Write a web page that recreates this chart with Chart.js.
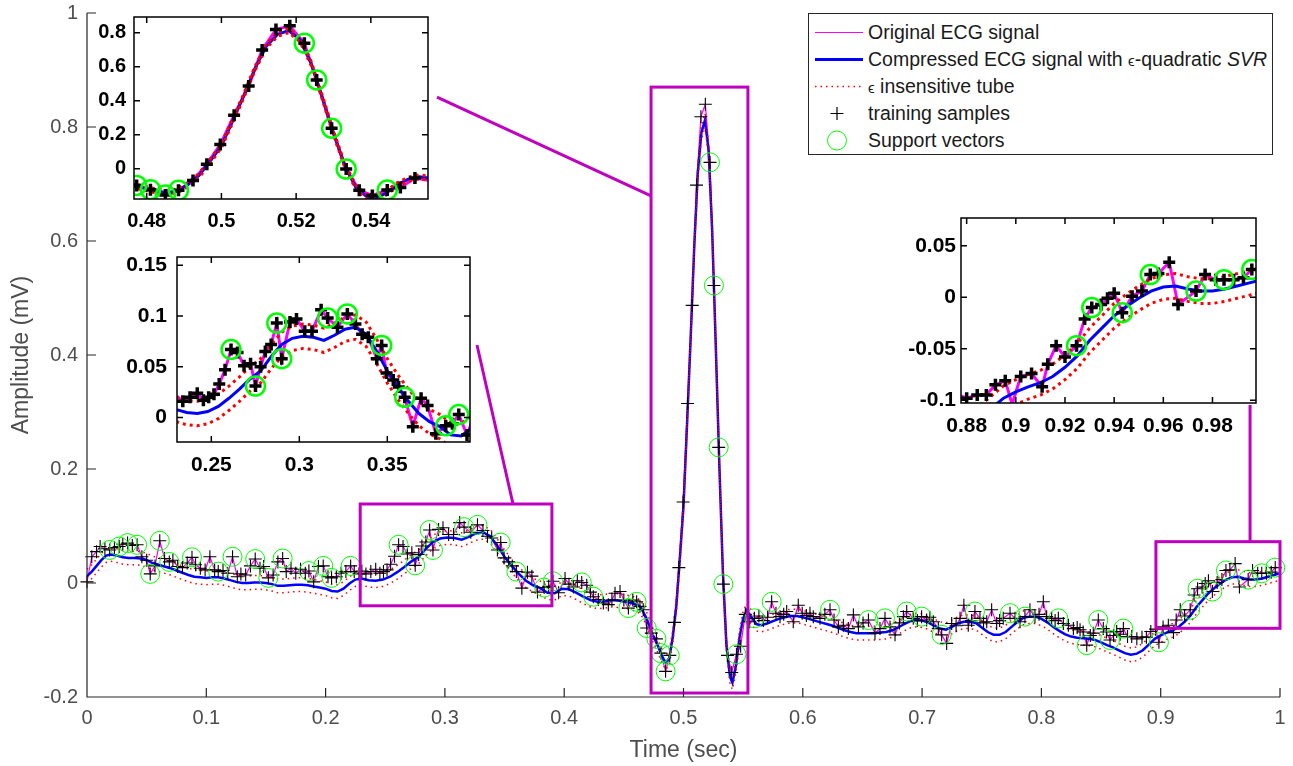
<!DOCTYPE html>
<html>
<head>
<meta charset="utf-8">
<title>ECG compression with SVR</title>
<script src="https://cdn.jsdelivr.net/npm/chart.js@4.4.1/dist/chart.umd.min.js"></script>
<style>
  html, body { margin: 0; padding: 0; background: #fff; }
  #wrap { position: relative; width: 1293px; height: 766px; overflow: hidden; }
  #wrap canvas { position: absolute; }
  #legend {
    position: absolute; left: 808px; top: 13px; width: 465px; height: 142px;
    box-sizing: border-box; border: 1px solid #262626; background: #fff;
    padding-top: 5px; font: 19.5px "Liberation Sans", Arial, Helvetica, sans-serif; color: #1a1a1a;
  }
  #legend .row { height: 27px; display: flex; align-items: center; white-space: nowrap; }
  #legend svg { margin-left: 6px; margin-right: 5px; flex: none; }
  #legend .eps { font-size: 15px; }
</style>
</head>
<body>
<div id="wrap">
  <canvas id="mainChart" width="1293" height="766" style="left:0;top:0"></canvas>
  <canvas id="zoomQrs" width="351" height="230" style="left:89px;top:5px"></canvas>
  <canvas id="zoomP" width="372" height="235" style="left:110px;top:245px"></canvas>
  <canvas id="zoomEnd" width="375" height="242" style="left:893px;top:206px"></canvas>
  <div id="legend"></div>
</div>
<script>
// ---- training samples (black +), the original ECG line runs through them ----
const trainT = [
  // 0 - 0.23
  0.000, 0.004, 0.008, 0.011, 0.015, 0.019, 0.023, 0.027, 0.030, 0.034,
  0.038, 0.042, 0.046, 0.050, 0.053, 0.057, 0.061, 0.065, 0.069, 0.072,
  0.076, 0.080, 0.084, 0.088, 0.091, 0.095, 0.099, 0.103, 0.107, 0.110,
  0.114, 0.118, 0.122, 0.126, 0.129, 0.133, 0.137, 0.141, 0.145, 0.148,
  0.152, 0.156, 0.160, 0.164, 0.167, 0.171, 0.175, 0.179, 0.183, 0.186,
  0.190, 0.194, 0.198, 0.202, 0.205, 0.209, 0.213, 0.217, 0.221, 0.224,
  0.228,
  // P wave
  0.2304, 0.2338, 0.2379, 0.2420, 0.2455, 0.2485, 0.2515, 0.2545, 0.2578, 0.2612,
  0.2649, 0.2686, 0.2723, 0.2751, 0.2780, 0.2807, 0.2840, 0.2872, 0.2900, 0.2947,
  0.2984, 0.3031, 0.3072, 0.3124, 0.3161, 0.3217, 0.3273, 0.3319, 0.3357, 0.3392,
  0.3440, 0.3468, 0.3496, 0.3534, 0.3565, 0.3599, 0.3645, 0.3692, 0.3729, 0.3776,
  0.3832, 0.3870, 0.3906, 0.3953,
  // PR segment
  0.4007, 0.4040, 0.4077, 0.4110, 0.4147, 0.4189, 0.4220, 0.4244, 0.4286, 0.4328,
  0.4370, 0.4400, 0.4426, 0.4468, 0.4500, 0.4538, 0.4575, 0.4607, 0.4635, 0.4663,
  0.4692, 0.4730,
  // QRS
  0.4773, 0.4810, 0.4850, 0.4885, 0.4924, 0.4961, 0.4997, 0.5034, 0.5073, 0.5109,
  0.5146, 0.5183, 0.5222, 0.5255, 0.5295, 0.5334, 0.5369, 0.5404, 0.5444, 0.5479,
  0.5518,
  // ST / T segment
  0.5555, 0.5595, 0.5632, 0.5669, 0.5705, 0.5739, 0.5775, 0.5809, 0.5840, 0.5865,
  0.5920, 0.5962, 0.5995, 0.6030, 0.6060, 0.6088, 0.6144, 0.6185, 0.6228, 0.6262,
  0.6298, 0.6340, 0.6382, 0.6424, 0.6466, 0.6505, 0.6550, 0.6605, 0.6647, 0.6689,
  0.6731, 0.6773, 0.6810, 0.6843, 0.6871, 0.6926, 0.6960, 0.6996, 0.7038, 0.7065,
  0.7094, 0.7136, 0.7164, 0.7206, 0.7248, 0.7285, 0.7318, 0.7350, 0.7387, 0.7415,
  0.7443, 0.7485, 0.7515, 0.7542, 0.7583, 0.7625, 0.7650, 0.7680, 0.7737, 0.7779,
  0.7821, 0.7862, 0.7904, 0.7946, 0.7980, 0.8016, 0.8044, 0.8086, 0.8115, 0.8142,
  0.8184, 0.8226, 0.8268, 0.8300, 0.8324, 0.8350, 0.8380, 0.8410, 0.8435, 0.8477,
  0.8519, 0.8545, 0.8575, 0.8605, 0.8631, 0.8660, 0.8687, 0.8722, 0.8757,
  // end
  0.8800, 0.8843, 0.8880, 0.8917, 0.8957, 0.8985, 0.9020, 0.9064, 0.9107, 0.9130,
  0.9164, 0.9200, 0.9247, 0.9280, 0.9309, 0.9347, 0.9373, 0.9400, 0.9433, 0.9473,
  0.9513, 0.9547, 0.9580, 0.9624, 0.9660, 0.9733, 0.9770, 0.9813, 0.9847, 0.9886,
  0.9926, 0.9960
];
const trainY = [
  0.002, 0.046, 0.055, 0.064, 0.060, 0.058, 0.062, 0.064, 0.068, 0.070,
  0.066, 0.067, 0.046, 0.040, 0.016, 0.030, 0.074, 0.043, 0.037, 0.040,
  0.029, 0.027, 0.035, 0.045, 0.032, 0.026, 0.023, 0.046, 0.023, 0.020,
  0.022, 0.017, 0.046, 0.011, 0.016, 0.014, 0.030, 0.042, 0.026, 0.029,
  0.009, 0.014, 0.037, 0.043, 0.020, 0.026, 0.017, 0.024, 0.017, 0.021,
  0.002, 0.029, 0.030, 0.011, 0.009, 0.011, 0.017, 0.020, 0.030, 0.020,
  0.016,

  0.021, 0.016, 0.020, 0.024, 0.017, 0.020, 0.023, 0.033, 0.047, 0.067,
  0.064, 0.051, 0.053, 0.031, 0.050, 0.065, 0.072, 0.093, 0.058, 0.094,
  0.097, 0.085, 0.085, 0.106, 0.098, 0.089, 0.102, 0.092, 0.082, 0.079,
  0.058, 0.071, 0.044, 0.037, 0.030, 0.020, -0.009, 0.019, 0.012, -0.016,
  -0.008, -0.006, 0.003, -0.017,

  0.008, -0.002, -0.007, 0.004, 0.001, -0.004, -0.016, -0.024, -0.029, -0.035,
  -0.038, -0.030, -0.018, -0.015, -0.030, -0.044, -0.030, -0.033, -0.041, -0.047,
  -0.079, -0.088,

  -0.098, -0.123, -0.155, -0.127, -0.069, 0.027, 0.142, 0.315, 0.487, 0.698,
  0.818, 0.840, 0.738, 0.522, 0.238, -0.002, -0.127, -0.157, -0.125, -0.111,
  -0.055,

  -0.068, -0.062, -0.058, -0.066, -0.060, -0.033, -0.053, -0.059, -0.055, -0.050,
  -0.068, -0.039, -0.053, -0.057, -0.053, -0.059, -0.062, -0.055, -0.047, -0.065,
  -0.077, -0.074, -0.080, -0.056, -0.077, -0.070, -0.065, -0.088, -0.080, -0.062,
  -0.077, -0.091, -0.070, -0.059, -0.050, -0.062, -0.066, -0.059, -0.065, -0.060,
  -0.068, -0.080, -0.091, -0.106, -0.071, -0.075, -0.062, -0.039, -0.074, -0.066,
  -0.050, -0.062, -0.070, -0.068, -0.047, -0.071, -0.066, -0.062, -0.053, -0.062,
  -0.068, -0.059, -0.047, -0.059, -0.055, -0.033, -0.059, -0.062, -0.066, -0.062,
  -0.071, -0.074, -0.080, -0.078, -0.082, -0.086, -0.109, -0.092, -0.088, -0.065,
  -0.080, -0.086, -0.100, -0.092, -0.085, -0.090, -0.080, -0.094, -0.094,

  -0.098, -0.095, -0.095, -0.085, -0.081, -0.104, -0.077, -0.074, -0.087, -0.065,
  -0.047, -0.058, -0.047, -0.021, -0.010, -0.007, -0.001, 0.004, -0.015, 0.001,
  0.006, 0.022, 0.023, 0.034, -0.007, 0.006, 0.022, 0.017, 0.017, 0.017,
  0.019, 0.027
];

// ---- support vectors (green o) ----
const svT = [
  0.019, 0.027, 0.034, 0.042, 0.053, 0.061, 0.069, 0.088, 0.110, 0.122,
  0.141, 0.152, 0.164, 0.186, 0.198, 0.205, 0.221,
  0.2612, 0.2751, 0.2872, 0.2900, 0.3161, 0.3273, 0.3468, 0.3599, 0.3832, 0.3906,
  0.4147, 0.4244, 0.4538, 0.4607, 0.4692,
  0.4773, 0.4810, 0.4850, 0.4885, 0.5222, 0.5255, 0.5295, 0.5334, 0.5444,
  0.5595, 0.5739, 0.6228, 0.6550, 0.6689, 0.6871, 0.6996, 0.7164, 0.7443, 0.7737,
  0.7862, 0.8142, 0.8380, 0.8477, 0.8575, 0.8687,
  0.8985, 0.9247, 0.9309, 0.9433, 0.9547, 0.9733, 0.9847, 0.9960
];
const svY = [
  0.058, 0.064, 0.070, 0.067, 0.016, 0.074, 0.037, 0.045, 0.020, 0.046,
  0.042, 0.009, 0.043, 0.021, 0.030, 0.009, 0.030,
  0.067, 0.031, 0.093, 0.058, 0.098, 0.102, 0.071, 0.020, -0.008, 0.003,
  0.001, -0.024, -0.044, -0.033, -0.079,
  -0.098, -0.123, -0.155, -0.127, 0.738, 0.522, 0.238, -0.002, -0.125,
  -0.062, -0.033, -0.047, -0.065, -0.062, -0.050, -0.059, -0.091, -0.050, -0.053,
  -0.059, -0.062, -0.109, -0.065, -0.100, -0.080,
  -0.104, -0.047, -0.010, -0.015, 0.022, 0.006, 0.017, 0.027
];

// ---- compressed signal (blue) and the epsilon tube (red dotted) ----
const fitT = [
  0.000, 0.004, 0.008, 0.012, 0.016, 0.020, 0.025, 0.030, 0.035, 0.040,
  0.045, 0.050, 0.055, 0.060, 0.065, 0.070, 0.075, 0.080, 0.085, 0.090,
  0.095, 0.100, 0.105, 0.110, 0.115, 0.120, 0.125, 0.130, 0.135, 0.140,
  0.145, 0.150, 0.155, 0.160, 0.165, 0.170, 0.175, 0.180, 0.185, 0.190,
  0.195, 0.200, 0.205, 0.210, 0.215, 0.220, 0.225, 0.230, 0.236, 0.242,
  0.248, 0.254, 0.260, 0.266, 0.272, 0.278, 0.284, 0.290, 0.296, 0.302,
  0.308, 0.314, 0.320, 0.326, 0.332, 0.338, 0.344, 0.350, 0.356, 0.362,
  0.368, 0.374, 0.380, 0.386, 0.392, 0.398, 0.404, 0.410, 0.416, 0.422,
  0.428, 0.434, 0.440, 0.446, 0.452, 0.458, 0.464, 0.469, 0.474, 0.478,
  0.482, 0.485, 0.488, 0.491, 0.494, 0.497, 0.500, 0.503, 0.506, 0.509,
  0.512, 0.515, 0.518, 0.521, 0.524, 0.527, 0.530, 0.533, 0.536, 0.539,
  0.541, 0.544, 0.547, 0.550, 0.553, 0.557, 0.561, 0.565, 0.570, 0.575,
  0.580, 0.585, 0.590, 0.595, 0.600, 0.605, 0.610, 0.615, 0.620, 0.625,
  0.630, 0.635, 0.640, 0.645, 0.650, 0.655, 0.660, 0.665, 0.670, 0.675,
  0.680, 0.685, 0.690, 0.695, 0.700, 0.705, 0.710, 0.715, 0.720, 0.725,
  0.730, 0.735, 0.740, 0.745, 0.750, 0.755, 0.760, 0.765, 0.770, 0.775,
  0.780, 0.785, 0.790, 0.795, 0.800, 0.805, 0.810, 0.815, 0.820, 0.825,
  0.830, 0.835, 0.840, 0.845, 0.850, 0.855, 0.860, 0.865, 0.870, 0.875,
  0.880, 0.885, 0.890, 0.895, 0.900, 0.905, 0.910, 0.915, 0.920, 0.925,
  0.930, 0.935, 0.940, 0.945, 0.950, 0.955, 0.960, 0.965, 0.970, 0.975,
  0.980, 0.985, 0.990, 0.995, 1.000
];
const fitY = [
  0.012, 0.020, 0.030, 0.040, 0.048, 0.050, 0.048, 0.045, 0.044, 0.044,
  0.043, 0.040, 0.035, 0.032, 0.029, 0.026, 0.022, 0.018, 0.014, 0.011,
  0.010, 0.009, 0.010, 0.010, 0.008, 0.005, 0.002, 0.000, 0.000, 0.001,
  0.001, 0.000, -0.002, -0.005, -0.005, -0.004, -0.003, -0.003, -0.004, -0.006,
  -0.008, -0.010, -0.014, -0.015, -0.010, -0.001, 0.006, 0.008, 0.005, 0.004,
  0.006, 0.011, 0.019, 0.028, 0.038, 0.046, 0.060, 0.072, 0.078, 0.080,
  0.079, 0.076, 0.081, 0.087, 0.089, 0.082, 0.065, 0.046, 0.030, 0.016,
  0.004, -0.004, -0.009, -0.017, -0.018, -0.010, -0.011, -0.017, -0.024, -0.030,
  -0.033, -0.032, -0.030, -0.031, -0.033, -0.036, -0.042, -0.062, -0.090, -0.108,
  -0.128, -0.140, -0.132, -0.095, -0.040, 0.045, 0.135, 0.280, 0.430, 0.590,
  0.720, 0.790, 0.812, 0.760, 0.620, 0.420, 0.210, 0.020, -0.110, -0.165,
  -0.175, -0.145, -0.095, -0.062, -0.048, -0.060, -0.072, -0.074, -0.071, -0.067,
  -0.063, -0.060, -0.058, -0.058, -0.060, -0.063, -0.066, -0.069, -0.072, -0.075,
  -0.079, -0.083, -0.086, -0.088, -0.088, -0.088, -0.088, -0.087, -0.086, -0.083,
  -0.078, -0.072, -0.067, -0.065, -0.066, -0.069, -0.075, -0.080, -0.082, -0.077,
  -0.071, -0.068, -0.068, -0.070, -0.078, -0.086, -0.091, -0.091, -0.086, -0.077,
  -0.068, -0.061, -0.059, -0.059, -0.063, -0.069, -0.077, -0.084, -0.090, -0.094,
  -0.096, -0.097, -0.098, -0.100, -0.104, -0.109, -0.113, -0.118, -0.123, -0.126,
  -0.124, -0.118, -0.108, -0.098, -0.092, -0.087, -0.083, -0.077, -0.068, -0.057,
  -0.042, -0.030, -0.018, -0.009, -0.001, 0.006, 0.010, 0.011, 0.008, 0.006,
  0.006, 0.008, 0.011, 0.014, 0.017
];
const tubeHi = [
  0.024, 0.032, 0.042, 0.052, 0.060, 0.062, 0.060, 0.057, 0.056, 0.056,
  0.055, 0.052, 0.047, 0.044, 0.041, 0.038, 0.034, 0.030, 0.026, 0.023,
  0.022, 0.021, 0.022, 0.022, 0.020, 0.017, 0.014, 0.012, 0.012, 0.013,
  0.013, 0.012, 0.010, 0.007, 0.007, 0.008, 0.009, 0.009, 0.008, 0.006,
  0.004, 0.002, -0.002, -0.003, 0.002, 0.011, 0.018, 0.020, 0.017, 0.016,
  0.018, 0.023, 0.031, 0.040, 0.050, 0.058, 0.072, 0.084, 0.090, 0.092,
  0.091, 0.088, 0.093, 0.099, 0.101, 0.094, 0.077, 0.058, 0.042, 0.028,
  0.016, 0.008, 0.003, -0.005, -0.006, 0.002, 0.001, -0.005, -0.012, -0.018,
  -0.021, -0.020, -0.018, -0.019, -0.021, -0.024, -0.030, -0.050, -0.078, -0.096,
  -0.116, -0.128, -0.120, -0.083, -0.028, 0.057, 0.147, 0.292, 0.442, 0.602,
  0.732, 0.802, 0.824, 0.772, 0.632, 0.432, 0.222, 0.032, -0.098, -0.153,
  -0.163, -0.133, -0.083, -0.050, -0.036, -0.048, -0.060, -0.062, -0.059, -0.055,
  -0.051, -0.048, -0.046, -0.046, -0.048, -0.051, -0.054, -0.057, -0.060, -0.063,
  -0.067, -0.071, -0.074, -0.076, -0.076, -0.076, -0.076, -0.075, -0.074, -0.071,
  -0.066, -0.060, -0.055, -0.053, -0.054, -0.057, -0.063, -0.068, -0.070, -0.065,
  -0.059, -0.056, -0.056, -0.058, -0.066, -0.074, -0.079, -0.079, -0.074, -0.065,
  -0.056, -0.049, -0.047, -0.047, -0.051, -0.057, -0.065, -0.072, -0.078, -0.082,
  -0.084, -0.085, -0.086, -0.088, -0.092, -0.097, -0.101, -0.106, -0.111, -0.114,
  -0.112, -0.106, -0.096, -0.086, -0.080, -0.075, -0.071, -0.065, -0.056, -0.045,
  -0.030, -0.018, -0.006, 0.003, 0.011, 0.018, 0.022, 0.023, 0.020, 0.018,
  0.018, 0.020, 0.023, 0.026, 0.029
];
const tubeLo = [
  0.000, 0.008, 0.018, 0.028, 0.036, 0.038, 0.036, 0.033, 0.032, 0.032,
  0.031, 0.028, 0.023, 0.020, 0.017, 0.014, 0.010, 0.006, 0.002, -0.001,
  -0.002, -0.003, -0.002, -0.002, -0.004, -0.007, -0.010, -0.012, -0.012, -0.011,
  -0.011, -0.012, -0.014, -0.017, -0.017, -0.016, -0.015, -0.015, -0.016, -0.018,
  -0.020, -0.022, -0.026, -0.027, -0.022, -0.013, -0.006, -0.004, -0.007, -0.008,
  -0.006, -0.001, 0.007, 0.016, 0.026, 0.034, 0.048, 0.060, 0.066, 0.068,
  0.067, 0.064, 0.069, 0.075, 0.077, 0.070, 0.053, 0.034, 0.018, 0.004,
  -0.008, -0.016, -0.021, -0.029, -0.030, -0.022, -0.023, -0.029, -0.036, -0.042,
  -0.045, -0.044, -0.042, -0.043, -0.045, -0.048, -0.054, -0.074, -0.102, -0.120,
  -0.140, -0.152, -0.144, -0.107, -0.052, 0.033, 0.123, 0.268, 0.418, 0.578,
  0.708, 0.778, 0.800, 0.748, 0.608, 0.408, 0.198, 0.008, -0.122, -0.177,
  -0.187, -0.157, -0.107, -0.074, -0.060, -0.072, -0.084, -0.086, -0.083, -0.079,
  -0.075, -0.072, -0.070, -0.070, -0.072, -0.075, -0.078, -0.081, -0.084, -0.087,
  -0.091, -0.095, -0.098, -0.100, -0.100, -0.100, -0.100, -0.099, -0.098, -0.095,
  -0.090, -0.084, -0.079, -0.077, -0.078, -0.081, -0.087, -0.092, -0.094, -0.089,
  -0.083, -0.080, -0.080, -0.082, -0.090, -0.098, -0.103, -0.103, -0.098, -0.089,
  -0.080, -0.073, -0.071, -0.071, -0.075, -0.081, -0.089, -0.096, -0.102, -0.106,
  -0.108, -0.109, -0.110, -0.112, -0.116, -0.121, -0.125, -0.130, -0.135, -0.138,
  -0.136, -0.130, -0.120, -0.110, -0.104, -0.099, -0.095, -0.089, -0.080, -0.069,
  -0.054, -0.042, -0.030, -0.021, -0.013, -0.006, -0.002, -0.001, -0.004, -0.006,
  -0.006, -0.004, -0.001, 0.002, 0.005
];

// ---- axes ----
const mainXTicks = [0, 0.1, 0.2, 0.3, 0.4, 0.5, 0.6, 0.7, 0.8, 0.9, 1];
const mainYTicks = [-0.2, 0, 0.2, 0.4, 0.6, 0.8, 1];

// inset axes limits and ticks
const qrsXRange = [0.4766, 0.5553], qrsYRange = [-0.178, 0.892];
const qrsXTicks = [0.48, 0.5, 0.52, 0.54], qrsYTicks = [0, 0.2, 0.4, 0.6, 0.8];
const pXRange = [0.2305, 0.397], pYRange = [-0.024, 0.158];
const pXTicks = [0.25, 0.3, 0.35], pYTicks = [0, 0.05, 0.1, 0.15];
const endXRange = [0.8777, 0.9977], endYRange = [-0.1027, 0.077];
const endXTicks = [0.88, 0.9, 0.92, 0.94, 0.96, 0.98], endYTicks = [-0.1, -0.05, 0, 0.05];

// zoom rectangles on the main axes (data units) and the leader lines to the insets
const zoomBoxT = [[0.4728, 0.554], [0.229, 0.3897], [0.896, 1.0]];
const zoomBoxY = [[-0.193, 0.870], [-0.040, 0.1386], [-0.0795, 0.0725]];
const zoomLinkFrom = [[0.2934, 0.8526], [0.3269, 0.4175], [0.9749, 0.3123]];
const zoomLinkTo = [[0.4728, 0.679], [0.3571, 0.1386], [0.9749, 0.0725]];

const legendLabels = [
  'Original ECG signal',
  'Compressed ECG signal with <span class="eps">\u03F5</span>-quadratic <i>SVR</i>',
  '<span class="eps">\u03F5</span> insensitive tube',
  'training samples',
  'Support vectors'
];

const FONT = '"Liberation Sans", Arial, Helvetica, sans-serif';
const AXIS_COLOR = '#262626';
const TICK_COLOR = '#4d4d4d';
const ZOOM_COLOR = '#bf00bf';

Chart.defaults.font.family = FONT;

const pts = (xs, ys) => xs.map((x, i) => ({ x: x, y: ys[i] }));
const fmtTick = v => String(+Number(v).toFixed(4));

// ticks pointing inwards + axis lines (MATLAB look)
const axesFrame = {
  id: 'axesFrame',
  beforeDatasetsDraw(chart, args, o) {
    if (!o.fill) return;
    const a = chart.chartArea;
    chart.ctx.save();
    chart.ctx.fillStyle = o.fill;
    chart.ctx.fillRect(a.left, a.top, a.width, a.height);
    chart.ctx.restore();
  },
  afterDraw(chart, args, o) {
    const { ctx, chartArea: a, scales: { x, y } } = chart;
    ctx.save();
    ctx.strokeStyle = o.color;
    ctx.lineWidth = o.width;
    ctx.beginPath();
    x.ticks.forEach(t => {
      const px = x.getPixelForValue(t.value);
      ctx.moveTo(px, a.bottom); ctx.lineTo(px, a.bottom - o.len);
      if (o.box) { ctx.moveTo(px, a.top); ctx.lineTo(px, a.top + o.len); }
    });
    y.ticks.forEach(t => {
      const py = y.getPixelForValue(t.value);
      ctx.moveTo(a.left, py); ctx.lineTo(a.left + o.len, py);
      if (o.box) { ctx.moveTo(a.right, py); ctx.lineTo(a.right - o.len, py); }
    });
    if (o.box) {
      ctx.rect(a.left, a.top, a.width, a.height);
    } else {
      ctx.moveTo(a.left, a.top); ctx.lineTo(a.left, a.bottom); ctx.lineTo(a.right, a.bottom);
    }
    ctx.stroke();
    ctx.restore();
  }
};

// magenta zoom rectangles and leader lines on the main plot
const zoomMarks = {
  id: 'zoomMarks',
  afterDatasetsDraw(chart) {
    const { ctx, scales: { x, y } } = chart;
    ctx.save();
    ctx.strokeStyle = ZOOM_COLOR;
    ctx.lineWidth = 3;
    zoomBoxT.forEach((bt, i) => {
      const by = zoomBoxY[i];
      const l = x.getPixelForValue(bt[0]), r = x.getPixelForValue(bt[1]);
      const t = y.getPixelForValue(by[1]), b = y.getPixelForValue(by[0]);
      ctx.strokeRect(l, t, r - l, b - t);
    });
    ctx.beginPath();
    zoomLinkFrom.forEach((p, i) => {
      const q = zoomLinkTo[i];
      ctx.moveTo(x.getPixelForValue(p[0]), y.getPixelForValue(p[1]));
      ctx.lineTo(x.getPixelForValue(q[0]), y.getPixelForValue(q[1]));
    });
    ctx.stroke();
    ctx.restore();
  }
};

function seriesDatasets(st, xr, yr) {
  const inside = p => !xr || (p.x >= xr[0] && p.x <= xr[1] && p.y >= yr[0] && p.y <= yr[1]);
  const line = (data, color, width, dash) => ({
    data: data, showLine: true, pointRadius: 0, borderColor: color,
    borderWidth: width, borderDash: dash || [], clip: st.lineClip
  });
  return [
    { data: pts(svT, svY).filter(inside), showLine: false, pointStyle: 'circle',
      pointRadius: st.svR, pointBorderWidth: st.svW, pointBorderColor: '#00ff00',
      pointBackgroundColor: 'rgba(0,0,0,0)', clip: st.pointClip },
    { data: pts(trainT, trainY).filter(inside), showLine: false, pointStyle: 'cross',
      pointRadius: st.crossR, pointBorderWidth: st.crossW, pointBorderColor: '#000000',
      clip: st.pointClip },
    line(pts(fitT, tubeHi), '#ff0000', st.tubeW, st.tubeDash),
    line(pts(fitT, tubeLo), '#ff0000', st.tubeW, st.tubeDash),
    line(pts(fitT, fitY), '#0000ff', st.fitW),
    line(pts(trainT, trainY), '#ff00ff', st.origW)
  ];
}

function axisOpts(range, ticks, size, font, color, pad, title) {
  return {
    type: 'linear', min: range[0], max: range[1],
    afterBuildTicks: s => { s.ticks = ticks.map(v => ({ value: v })); },
    afterFit: s => {
      if (s.isHorizontal()) s.height = size; else s.width = size;
      // keep the plot box exactly where the layout padding puts it
      s.paddingTop = 0; s.paddingBottom = 0; s.paddingLeft = 0; s.paddingRight = 0;
    },
    grid: { display: false, drawTicks: false },
    border: { display: false },
    ticks: { color: color, font: font, padding: pad, autoSkip: false, maxRotation: 0, callback: fmtTick },
    title: title || { display: false }
  };
}

function makeChart(id, o) {
  return new Chart(document.getElementById(id), {
    type: 'scatter',
    data: { datasets: seriesDatasets(o.style, o.xr, o.yr) },
    options: {
      responsive: false, animation: false, events: [],
      layout: { padding: o.padding },
      plugins: { legend: { display: false }, tooltip: { enabled: false }, axesFrame: o.frame },
      scales: { x: o.x, y: o.y }
    },
    plugins: [axesFrame].concat(o.extra || [])
  });
}

// main axes
const mainTickFont = { family: FONT, size: 20 };
const mainTitleFont = { family: FONT, size: 23 };
makeChart('mainChart', {
  style: { svR: 9.5, svW: 1, crossR: 6.5, crossW: 1.1, tubeW: 1.5, tubeDash: [1.5, 4],
           fitW: 2.5, origW: 1.2, pointClip: false, lineClip: 0 },
  padding: { left: 0, top: 13, right: 13, bottom: 0 },
  frame: { color: AXIS_COLOR, width: 1.2, len: 9, box: false },
  x: axisOpts([0, 1], mainXTicks, 69, mainTickFont, TICK_COLOR, 9,
    { display: true, text: 'Time (sec)', color: TICK_COLOR, font: mainTitleFont, padding: { top: 0, bottom: 2 } }),
  y: axisOpts([-0.2, 1], mainYTicks, 87, mainTickFont, TICK_COLOR, 9,
    { display: true, text: 'Amplitude (mV)', color: TICK_COLOR, font: mainTitleFont, padding: { top: 8, bottom: 0 } }),
  extra: [zoomMarks]
});

// insets
const insetStyle = { svR: 9.5, svW: 2.5, crossR: 6, crossW: 3.5, tubeW: 3, tubeDash: [3, 4],
                     fitW: 3, origW: 3, pointClip: 0, lineClip: 0 };
const insetFrame = { color: '#000000', width: 1.5, len: 6, box: true, fill: '#ffffff' };

makeChart('zoomQrs', {
  style: insetStyle, xr: qrsXRange, yr: qrsYRange,
  padding: { left: 0, top: 8, right: 7, bottom: 0 }, frame: insetFrame,
  x: axisOpts(qrsXRange, qrsXTicks, 36, { family: FONT, size: 20, weight: 'bold' }, '#000', 10),
  y: axisOpts(qrsYRange, qrsYTicks, 45, { family: FONT, size: 20, weight: 'bold' }, '#000', 8)
});
makeChart('zoomP', {
  style: insetStyle, xr: pXRange, yr: pYRange,
  padding: { left: 0, top: 9, right: 7, bottom: 0 }, frame: insetFrame,
  x: axisOpts(pXRange, pXTicks, 38, { family: FONT, size: 21, weight: 'bold' }, '#000', 11),
  y: axisOpts(pYRange, pYTicks, 67, { family: FONT, size: 21, weight: 'bold' }, '#000', 10)
});
makeChart('zoomEnd', {
  style: insetStyle, xr: endXRange, yr: endYRange,
  padding: { left: 0, top: 10, right: 7, bottom: 0 }, frame: insetFrame,
  x: axisOpts(endXRange, endXTicks, 45, { family: FONT, size: 21, weight: 'bold' }, '#000', 11),
  y: axisOpts(endYRange, endYTicks, 68, { family: FONT, size: 21, weight: 'bold' }, '#000', 5)
});

// legend
const legendSymbols = [
  '<line x1="0" y1="13.5" x2="48" y2="13.5" stroke="#ff00ff" stroke-width="1.2"/>',
  '<line x1="0" y1="13.5" x2="48" y2="13.5" stroke="#0000ff" stroke-width="3"/>',
  '<line x1="0" y1="13.5" x2="48" y2="13.5" stroke="#ff0000" stroke-width="1.5" stroke-dasharray="1.5 4"/>',
  '<path d="M15.5 13.5h13M22 7v13" stroke="#000" stroke-width="1.2" fill="none"/>',
  '<circle cx="22" cy="13.5" r="9.5" stroke="#00ff00" stroke-width="1" fill="none"/>'
];
document.getElementById('legend').innerHTML = legendLabels.map((txt, i) =>
  '<div class="row"><svg width="48" height="27">' + legendSymbols[i] + '</svg><span>' + txt + '</span></div>'
).join('');
</script>
</body>
</html>
